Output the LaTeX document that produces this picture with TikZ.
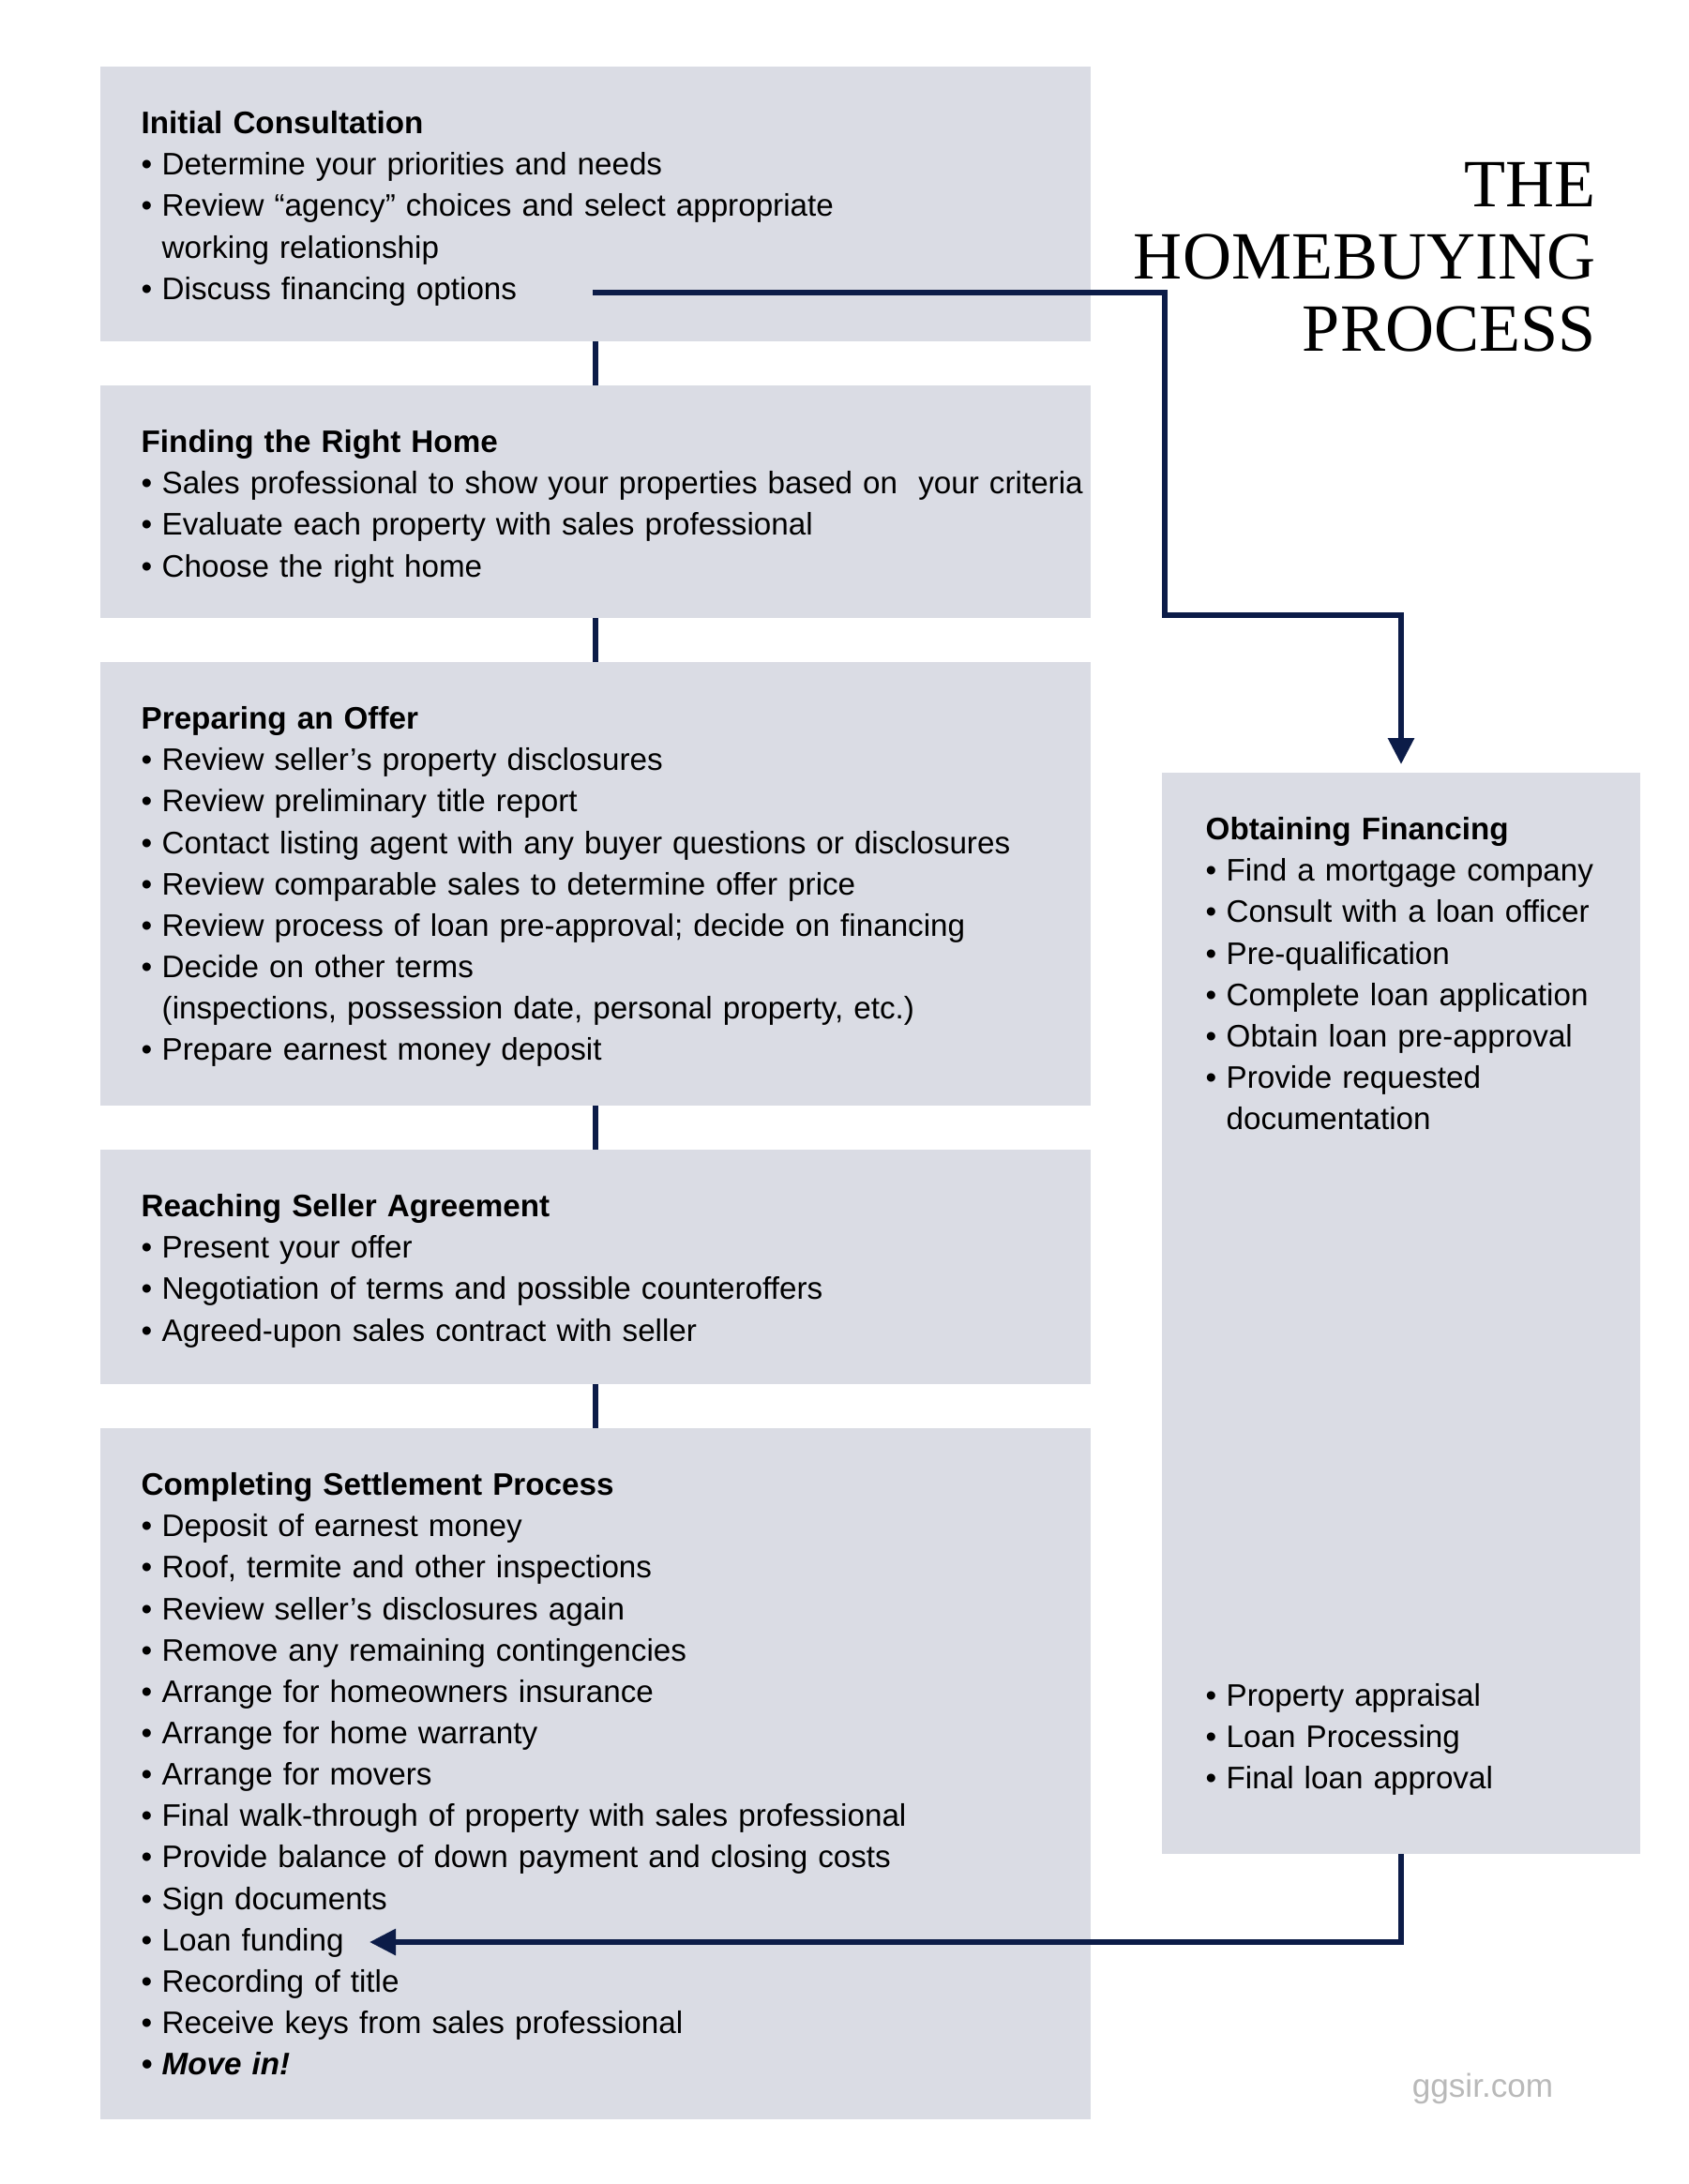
\documentclass[tikz,border=0pt]{standalone}
\usepackage{fontspec}
\setmainfont{Liberation Sans}
\newfontfamily\titlefont{Liberation Serif}
\usetikzlibrary{positioning,arrows.meta}

\definecolor{boxgray}{RGB}{218,220,228}
\definecolor{navy}{RGB}{12,28,72}
\definecolor{marktext}{RGB}{185,185,185}

\newcommand{\itm}[1]{\makebox[0.22cm][l]{\textbullet}#1}
\newcommand{\cnt}[1]{\hspace*{0.22cm}#1}

\begin{document}
\begin{tikzpicture}[
    stepbox/.style={rectangle, fill=boxgray, inner sep=0pt, outer sep=0pt, minimum width=10.56cm},
    steptext/.style={anchor=north west, inner sep=0pt, align=left, text width=14cm,
        font=\fontsize{9.45}{12.56}\selectfont},
    link/.style={navy, line width=1.7pt},
    flow/.style={navy, line width=1.7pt, -{Triangle[length=0.28cm,width=0.27cm]}},
    node distance=0.47cm
]
\useasboundingbox (0,0) rectangle (18,-23.29);

% the five steps on the left
\node[stepbox, anchor=north, minimum height=2.93cm] (consult) at (6.35,-0.71) {};
\node[stepbox, minimum height=2.48cm, below=of consult] (home) {};
\node[stepbox, minimum height=4.73cm, below=of home] (offer) {};
\node[stepbox, minimum height=2.50cm, below=of offer] (agree) {};
\node[stepbox, minimum height=7.37cm, below=of agree] (settle) {};

% financing on the right
\node[stepbox, anchor=north west, minimum width=5.10cm, minimum height=11.53cm] (fin) at (12.39,-8.24) {};

\node[steptext] (consultT) at ([xshift=0.43cm,yshift=-0.40cm]consult.north west) {\strut\textbf{Initial Consultation}\\
    \itm{Determine your priorities and needs}\\
    \itm{Review “agency” choices and select appropriate}\\
    \cnt{working relationship}\\
    \itm{Discuss financing options}};

\node[steptext] (homeT) at ([xshift=0.43cm,yshift=-0.40cm]home.north west) {\strut\textbf{Finding the Right Home}\\
    \itm{Sales professional to show your properties based on~ your criteria}\\
    \itm{Evaluate each property with sales professional}\\
    \itm{Choose the right home}};

\node[steptext] (offerT) at ([xshift=0.43cm,yshift=-0.40cm]offer.north west) {\strut\textbf{Preparing an Offer}\\
    \itm{Review seller’s property disclosures}\\
    \itm{Review preliminary title report}\\
    \itm{Contact listing agent with any buyer questions or disclosures}\\
    \itm{Review comparable sales to determine offer price}\\
    \itm{Review process of loan pre-approval; decide on financing}\\
    \itm{Decide on other terms}\\
    \cnt{(inspections, possession date, personal property, etc.)}\\
    \itm{Prepare earnest money deposit}};

\node[steptext] (agreeT) at ([xshift=0.43cm,yshift=-0.40cm]agree.north west) {\strut\textbf{Reaching Seller Agreement}\\
    \itm{Present your offer}\\
    \itm{Negotiation of terms and possible counteroffers}\\
    \itm{Agreed-upon sales contract with seller}};

\node[steptext] (settleT) at ([xshift=0.43cm,yshift=-0.40cm]settle.north west) {\strut\textbf{Completing Settlement Process}\\
    \itm{Deposit of earnest money}\\
    \itm{Roof, termite and other inspections}\\
    \itm{Review seller’s disclosures again}\\
    \itm{Remove any remaining contingencies}\\
    \itm{Arrange for homeowners insurance}\\
    \itm{Arrange for home warranty}\\
    \itm{Arrange for movers}\\
    \itm{Final walk-through of property with sales professional}\\
    \itm{Provide balance of down payment and closing costs}\\
    \itm{Sign documents}\\
    \itm{Loan funding}\\
    \itm{Recording of title}\\
    \itm{Receive keys from sales professional}\\
    \textbf{\textit{\itm{Move in!}}}};

\node[steptext] (finT) at ([xshift=0.46cm,yshift=-0.40cm]fin.north west) {\strut\textbf{Obtaining Financing}\\
    \itm{Find a mortgage company}\\
    \itm{Consult with a loan officer}\\
    \itm{Pre-qualification}\\
    \itm{Complete loan application}\\
    \itm{Obtain loan pre-approval}\\
    \itm{Provide requested}\\
    \cnt{documentation}};

\node[steptext] (finT2) at ([xshift=0.46cm,yshift=-9.64cm]fin.north west) {\strut\itm{Property appraisal}\\
    \itm{Loan Processing}\\
    \itm{Final loan approval}};

% title
\node[anchor=north east, inner sep=0pt, align=right, font=\titlefont\fontsize{20.5}{21.9}\selectfont] (title) at (17.02,-1.66) {\strut THE\\HOMEBUYING\\PROCESS};

\node[font=\fontsize{10}{12}\selectfont, text=marktext] (mark) at (15.81,-22.27) {ggsir.com};

% connectors
\foreach \a/\b in {consult/home, home/offer, offer/agree, agree/settle} {
    \draw[link] (\a.south) -- (\b.north);
}

\coordinate (finstart) at (6.32,-3.12);
\coordinate (finbend) at (12.42,-6.56);
\draw[flow, shorten >=0.09cm] (finstart) -| (finbend) -| (fin.north);

\coordinate (fundend) at (3.94,-20.71);
\draw[flow] (fin.south) |- (fundend);
\end{tikzpicture}
\end{document}
